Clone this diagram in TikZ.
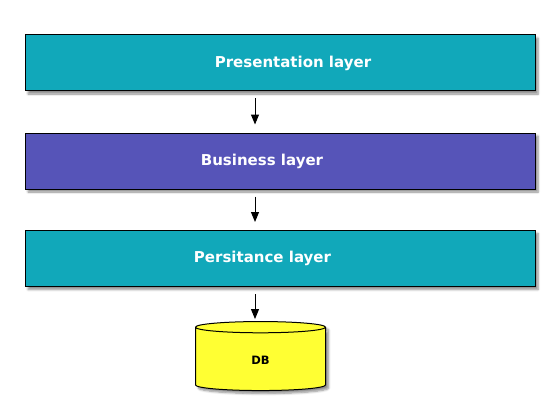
\documentclass[tikz,border=0pt]{standalone}
\usepackage{fontspec}
\setmainfont{DejaVu Sans}
\usetikzlibrary{positioning,shapes.geometric,shadows.blur,arrows.meta}
\definecolor{layerteal}{RGB}{17,168,186}
\definecolor{layerblue}{RGB}{86,84,184}
\definecolor{dbyellow}{RGB}{255,255,51}
\begin{document}
\begin{tikzpicture}[x=1pt,y=-1pt,
    shade/.style={blur shadow={shadow xshift=3pt,shadow yshift=-3pt,shadow blur steps=6,shadow opacity=45}},
    layer/.style={draw,line width=1pt,minimum width=510pt,minimum height=56pt,shade},
    ltext/.style={text=white,font=\bfseries\fontsize{15}{17}\selectfont},
    flow/.style={-{Triangle[length=10pt,width=8pt]},line width=1pt}]
    \useasboundingbox (0,0) rectangle (560,420);
    % the three layers
    \node[layer,fill=layerteal,label={[ltext,xshift=13pt]center:Presentation layer}] (pres) at (280,63) {};
    \node[layer,fill=layerblue,below=41pt of pres,label={[ltext,xshift=-18pt]center:Business layer}] (bus) {};
    \node[layer,fill=layerteal,below=40.5pt of bus,label={[ltext,xshift=-17.5pt]center:Persitance layer}] (pers) {};
    % database
    \node[cylinder,shape border rotate=90,draw,line width=1pt,fill=dbyellow,aspect=0.45,
      minimum width=130pt,minimum height=69pt,shade,font=\bfseries\fontsize{11.5}{13}\selectfont] (db) at (260.5,360) {DB};
    % arrows between layers
    \draw[flow,shorten <=7pt,shorten >=8pt] ([xshift=-25pt]pres.south) -- ([xshift=-25pt]bus.north);
    \draw[flow,shorten <=7pt,shorten >=8pt] ([xshift=-25pt]bus.south) -- ([xshift=-25pt]pers.north);
    \draw[flow,shorten <=7pt,shorten >=2pt] ([xshift=-25pt]pers.south) -- ([xshift=-25pt]pers.south |- db.north);
\end{tikzpicture}
\end{document}
